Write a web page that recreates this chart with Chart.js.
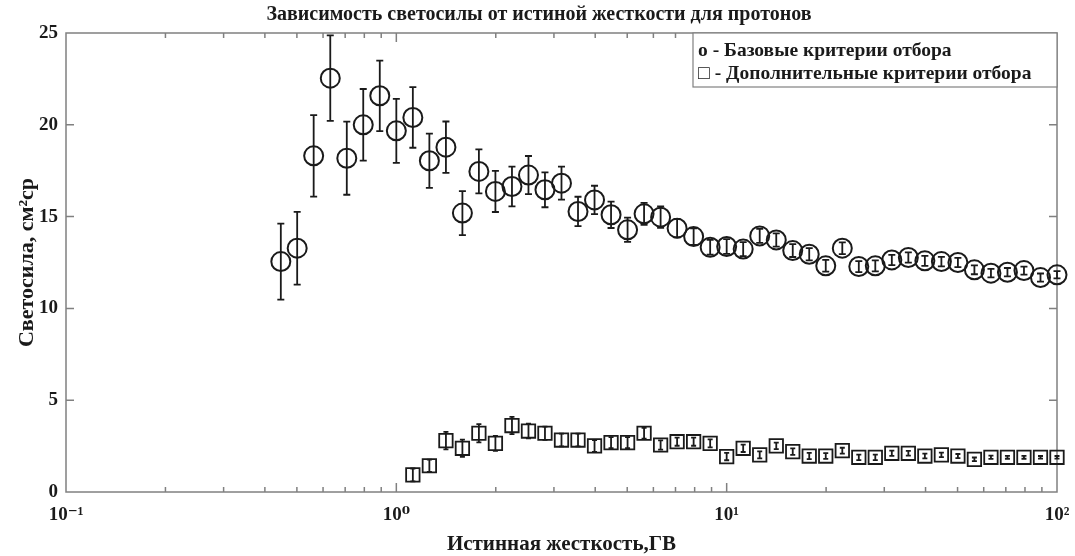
<!DOCTYPE html>
<html>
<head>
<meta charset="utf-8">
<script src="https://cdn.jsdelivr.net/npm/chart.js@4.4.1/dist/chart.umd.min.js"></script>
<style>
  html, body { margin: 0; padding: 0; background: #ffffff; }
  #wrap { width: 1075px; height: 556px; }
</style>
</head>
<body>
<div id="wrap"><canvas id="chart" width="1075" height="556"></canvas></div>
<script>
// True rigidity bins, GV (20 bins per decade)
const rigidity = [
  0.447, 0.501, 0.562, 0.631, 0.708, 0.794, 0.891, 1.000, 1.122, 1.259,
  1.413, 1.585, 1.778, 1.995, 2.239, 2.512, 2.818, 3.162, 3.548, 3.981,
  4.467, 5.012, 5.623, 6.310, 7.079, 7.943, 8.913, 10.00, 11.22, 12.59,
  14.13, 15.85, 17.78, 19.95, 22.39, 25.12, 28.18, 31.62, 35.48, 39.81,
  44.67, 50.12, 56.23, 63.10, 70.79, 79.43, 89.13, 100.0
];

// Acceptance with the basic selection criteria, cm^2 sr
const baseAcceptance = [
  12.55, 13.28, 18.31, 22.54, 18.18, 20.00, 21.58, 19.67, 20.40, 18.04,
  18.78, 15.19, 17.46, 16.37, 16.64, 17.26, 16.46, 16.82, 15.28, 15.91,
  15.10, 14.28, 15.15, 14.97, 14.37, 13.91, 13.33, 13.37, 13.23, 13.95,
  13.73, 13.15, 12.95, 12.32, 13.28, 12.28, 12.32, 12.64, 12.77, 12.59,
  12.55, 12.50, 12.10, 11.92, 11.97, 12.06, 11.68, 11.83
];
const baseErrors = [
  2.07, 1.98, 2.22, 2.33, 1.99, 1.95, 1.92, 1.74, 1.65, 1.48,
  1.40, 1.20, 1.20, 1.12, 1.08, 1.04, 0.95, 0.90, 0.80, 0.77,
  0.72, 0.66, 0.60, 0.58, 0.50, 0.45, 0.40, 0.40, 0.38, 0.38,
  0.36, 0.35, 0.33, 0.32, 0.32, 0.30, 0.30, 0.28, 0.28, 0.27,
  0.26, 0.25, 0.24, 0.23, 0.23, 0.22, 0.22, 0.20
];

// Acceptance with the additional selection criteria (from 1.12 GV)
const extraRigidity = rigidity.slice(8);
const extraAcceptance = [
  0.93, 1.43, 2.80, 2.38, 3.20, 2.65, 3.62, 3.32, 3.20, 2.83,
  2.83, 2.51, 2.69, 2.69, 3.20, 2.56, 2.74, 2.74, 2.65, 1.93,
  2.38, 2.02, 2.51, 2.20, 1.96, 1.96, 2.25, 1.89, 1.89, 2.11,
  2.11, 1.96, 2.02, 1.96, 1.78, 1.89, 1.89, 1.89, 1.89, 1.89
];
const extraErrors = [
  0.35, 0.33, 0.48, 0.47, 0.50, 0.41, 0.47, 0.40, 0.36, 0.35,
  0.35, 0.32, 0.30, 0.30, 0.30, 0.25, 0.22, 0.22, 0.22, 0.20,
  0.20, 0.19, 0.18, 0.18, 0.17, 0.16, 0.16, 0.15, 0.15, 0.14,
  0.13, 0.13, 0.12, 0.11, 0.10, 0.09, 0.08, 0.08, 0.07, 0.07
];

// Axis ticks and labels
const xMajorTicks = [0.1, 1, 10, 100];
const xTickLabels = ['10\u207B\u00B9', '10\u2070', '10\u00B9', '10\u00B2'];
const xMinorTicks = [0.2, 0.3, 0.4, 0.5, 0.6, 0.7, 0.8, 0.9,
                     2, 3, 4, 5, 6, 7, 8, 9,
                     20, 30, 40, 50, 60, 70, 80, 90];
const yTicks = [0, 5, 10, 15, 20, 25];

const titleText = 'Зависимость светосилы от истиной жесткости для протонов';
const xTitle = 'Истинная жесткость,ГВ';
const yTitle = 'Светосила, см\u00B2ср';
const legendLines = ['о - Базовые критерии отбора', '\u25A1 - Дополнительные критерии отбора'];

const SERIF = '"Liberation Serif", "Times New Roman", "DejaVu Serif", serif';
const INK = '#1a1a1a';
const FRAME = '#808080';

const toPoints = (xs, ys) => xs.map((x, i) => ({ x: x, y: ys[i] }));

// Vertical error bars with caps, drawn through the chart scales
const errorBarsPlugin = {
  id: 'errorBars',
  afterDatasetsDraw(chart) {
    const ctx = chart.ctx;
    const yScale = chart.scales.y;
    chart.data.datasets.forEach((ds, i) => {
      const meta = chart.getDatasetMeta(i);
      ctx.save();
      ctx.strokeStyle = INK;
      ctx.lineWidth = 1.8;
      meta.data.forEach((pt, j) => {
        const v = ds.data[j].y;
        const e = ds.errors[j];
        const yTop = yScale.getPixelForValue(v + e);
        const yBot = yScale.getPixelForValue(v - e);
        const cap = ds.capHalfWidth;
        ctx.beginPath();
        ctx.moveTo(pt.x, yTop); ctx.lineTo(pt.x, yBot);
        ctx.moveTo(pt.x - cap, yTop); ctx.lineTo(pt.x + cap, yTop);
        ctx.moveTo(pt.x - cap, yBot); ctx.lineTo(pt.x + cap, yBot);
        ctx.stroke();
      });
      ctx.restore();
    });
  }
};

// Box frame with inward tick marks on all four sides
const framePlugin = {
  id: 'frame',
  beforeDatasetsDraw(chart) {
    const { ctx, chartArea: a } = chart;
    const xs = chart.scales.x, ys = chart.scales.y;
    ctx.save();
    ctx.strokeStyle = FRAME;
    ctx.lineWidth = 1.5;
    ctx.strokeRect(a.left, a.top, a.right - a.left, a.bottom - a.top);
    ctx.beginPath();
    const tick = (v, len) => {
      const px = xs.getPixelForValue(v);
      ctx.moveTo(px, a.bottom); ctx.lineTo(px, a.bottom - len);
      ctx.moveTo(px, a.top); ctx.lineTo(px, a.top + len);
    };
    xMinorTicks.forEach(v => tick(v, 5));
    xMajorTicks.slice(1, -1).forEach(v => tick(v, 9));
    yTicks.slice(1, -1).forEach(v => {
      const py = ys.getPixelForValue(v);
      ctx.moveTo(a.left, py); ctx.lineTo(a.left + 8, py);
      ctx.moveTo(a.right, py); ctx.lineTo(a.right - 8, py);
    });
    ctx.stroke();
    ctx.restore();
  }
};

// Text legend boxed in the upper right corner of the plot
const textLegendPlugin = {
  id: 'textLegend',
  afterDraw(chart) {
    const { ctx, chartArea: a } = chart;
    const left = 693, top = a.top, right = a.right, bottom = 87;
    ctx.save();
    ctx.fillStyle = '#ffffff';
    ctx.fillRect(left, top, right - left, bottom - top);
    ctx.strokeStyle = FRAME;
    ctx.lineWidth = 1.2;
    ctx.strokeRect(left, top, right - left, bottom - top);
    ctx.fillStyle = INK;
    ctx.font = 'bold 19.5px ' + SERIF;
    ctx.textBaseline = 'middle';
    ctx.textAlign = 'left';
    ctx.fillText(legendLines[0], left + 5, top + 18);
    ctx.fillText(legendLines[1], left + 5, top + 41);
    ctx.restore();
  }
};

new Chart(document.getElementById('chart'), {
  type: 'scatter',
  data: {
    datasets: [
      {
        label: legendLines[0],
        data: toPoints(rigidity, baseAcceptance),
        errors: baseErrors,
        capHalfWidth: 3.5,
        pointStyle: 'circle',
        pointRadius: 9.5,
        pointBorderWidth: 2,
        pointBorderColor: INK,
        pointBackgroundColor: 'rgba(0,0,0,0)',
        showLine: false,
        clip: false
      },
      {
        label: legendLines[1],
        data: toPoints(extraRigidity, extraAcceptance),
        errors: extraErrors,
        capHalfWidth: 2.5,
        pointStyle: 'rect',
        pointRadius: 9.5,
        pointBorderWidth: 1.8,
        pointBorderColor: INK,
        pointBackgroundColor: 'rgba(0,0,0,0)',
        showLine: false,
        clip: false
      }
    ]
  },
  options: {
    responsive: false,
    animation: false,
    events: [],
    layout: { padding: { left: 21, right: 18, top: 0, bottom: 0 } },
    plugins: {
      legend: { display: false },
      tooltip: { enabled: false },
      title: {
        display: true,
        text: titleText,
        color: INK,
        font: { family: SERIF, size: 20, weight: 'bold', lineHeight: 1.2 },
        padding: { top: 3, bottom: 6 }
      }
    },
    scales: {
      x: {
        type: 'logarithmic',
        min: 0.1,
        max: 100,
        grid: { display: false, drawTicks: false },
        border: { display: false },
        afterBuildTicks(scale) { scale.ticks = xMajorTicks.map(v => ({ value: v })); },
        afterFit(scale) {
          scale.height = 64;
          scale.paddingLeft = 0;
          scale.paddingRight = 0;
        },
        ticks: {
          autoSkip: false,
          maxRotation: 0,
          padding: 12,
          color: INK,
          font: { family: SERIF, size: 19, weight: 'bold' },
          callback: (v) => {
            const k = xMajorTicks.indexOf(v);
            return k >= 0 ? xTickLabels[k] : '';
          }
        },
        title: {
          display: true,
          text: xTitle,
          color: INK,
          font: { family: SERIF, size: 21, weight: 'bold', lineHeight: 1.2 },
          padding: { top: 0, bottom: -1 }
        }
      },
      y: {
        min: 0,
        max: 25,
        grid: { display: false, drawTicks: false },
        border: { display: false },
        afterBuildTicks(scale) { scale.ticks = yTicks.map(v => ({ value: v })); },
        afterFit(scale) {
          scale.width = 45;
          scale.paddingTop = 0;
          scale.paddingBottom = 0;
        },
        ticks: {
          padding: 8,
          color: INK,
          font: { family: SERIF, size: 19, weight: 'bold' }
        },
        title: {
          display: true,
          text: yTitle,
          color: INK,
          font: { family: SERIF, size: 22, weight: 'bold', lineHeight: 1.2 },
          padding: { top: -7, bottom: 0 }
        }
      }
    }
  },
  plugins: [errorBarsPlugin, framePlugin, textLegendPlugin]
});
</script>
</body>
</html>
